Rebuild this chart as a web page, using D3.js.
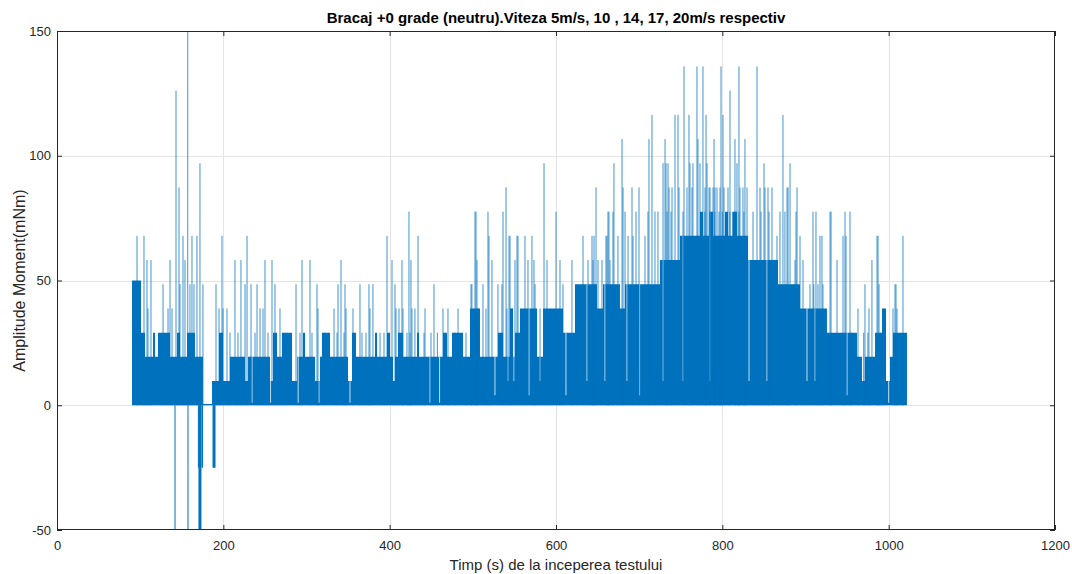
<!DOCTYPE html>
<html><head><meta charset="utf-8">
<script src="https://cdn.jsdelivr.net/npm/d3@7/dist/d3.min.js"></script>
<style>
body{margin:0;background:#fff;}
svg{display:block;font-family:"Liberation Sans",Arial,sans-serif;}
</style></head>
<body><svg id="chart" width="1072" height="574"></svg>
<script>
const titleText = "Bracaj +0 grade (neutru).Viteza 5m/s, 10 , 14, 17, 20m/s respectiv";
const xLabel = "Timp (s) de la inceperea testului";
const yLabel = "Amplitude Moment(mNm)";
const xTicks = [0, 200, 400, 600, 800, 1000, 1200];
const yTicks = [-50, 0, 50, 100, 150];

// dense band: step envelope (time, solid top level)
const envTime = [90.2,101.0,105.8,115.4,117.8,121.4,135.9,144.3,147.9,156.3,165.9,175.5,186.4,194.8,199.6,208.0,226.1,229.7,256.1,259.7,264.5,270.5,282.6,288.6,295.8,298.2,310.2,316.2,318.6,328.3,349.9,354.7,359.5,382.4,384.8,396.8,400.4,404.0,406.4,410.0,416.0,432.9,435.3,464.1,468.9,474.9,488.2,496.6,508.6,530.2,536.3,544.7,548.3,550.7,556.7,577.2,584.4,608.4,622.8,649.3,656.5,676.9,683.0,725.0,749.1,773.1,776.7,784.0,788.8,803.2,806.8,812.0,817.6,830.9,866.9,893.4,925.8,949.9,961.9,967.9,971.5,983.6,992.0,996.8,1001.6,1005.2,1022.0];
const envValue = [50,29.1,19.4,29.1,19.4,29.1,19.4,29.1,19.4,29.1,19.4,0.5,9.7,29.1,9.7,19.4,9.7,19.4,9.7,29.1,19.4,29.1,9.7,19.4,29.1,19.4,9.7,19.4,29.1,19.4,9.7,29.1,19.4,29.1,19.4,29.1,19.4,9.7,19.4,29.1,19.4,29.1,19.4,29.1,19.4,29.1,19.4,38.8,19.4,29.1,19.4,38.8,19.4,29.1,38.8,19.4,38.8,29.1,48.5,38.8,48.5,38.8,48.5,58.2,67.9,77.6,67.9,77.6,67.9,77.6,67.9,77.6,67.9,58.2,48.5,38.8,29.1,29.1,19.4,9.7,19.4,29.1,38.8,9.7,19.4,29.1,0];

// short drops inside the dense band (time, value reached)
const dipTime = [234.5,256.8,290.0,315.0,352.3,448.5,460.0,526.6,542.3,549.5,567.5,580.8,612.0,637.3,658.9,685.4,700.5,728.7,752.7,785.2,832.1,853.7,901.8,911.4,949.9,1000.0];
const dipValue = [1,1,1,1,1,1,1,4,9.7,9.7,4,9.7,4,9.7,9.7,9.7,4,9.7,9.7,9.7,9.7,9.7,9.7,9.7,4,1];

// individual peaks (time, value)
const spikeTime = [
157.2,143.1,809.2,
753.9,769.5,776.7,798.4,820.0,841.7,
715.4,743.1,746.7,759.9,780.4,800.8,872.9,
679.4,711.8,731.1,770.7,790.0,815.2,827.2,
171.9,585.6,669.7,728.7,732.3,734.7,761.1,764.7,773.1,781.6,817.6,850.1,881.4,
146.7,539.9,648.1,680.6,691.4,699.8,735.9,739.5,747.9,757.5,763.5,779.2,784.0,785.2,788.8,791.2,793.6,797.2,802.0,806.8,821.2,824.8,829.7,845.3,851.3,854.9,859.7,877.8,879.0,889.8,
423.2,502.6,503.8,518.2,536.3,600.0,662.5,663.7,668.5,683.0,696.2,710.6,719.0,722.6,733.5,738.3,752.7,826.0,836.9,846.5,856.1,869.3,875.3,888.6,909.0,912.6,929.5,930.7,947.5,953.5,779.0,786.0,791.0,796.0,800.0,809.0,815.0,820.0,
96.2,104.6,151.5,162.3,168.3,198.4,228.5,396.8,434.1,519.4,543.5,544.7,553.1,554.3,562.7,571.1,632.5,643.3,645.7,660.1,661.3,674.5,686.6,692.6,707.0,865.7,893.4,917.4,919.8,945.1,948.7,986.0,987.2,1017.2,
108.2,113.0,135.9,153.9,214.0,221.2,250.1,258.5,294.6,304.2,341.5,402.8,414.8,425.6,505.0,523.0,550.7,566.3,573.5,589.2,604.8,619.2,638.5,644.5,650.5,655.3,664.9,887.4,897.0,937.9,979.9,
127.5,147.9,159.9,164.7,175.5,191.2,226.1,233.3,240.5,262.1,287.4,312.6,337.9,346.3,364.3,375.1,379.9,406.4,453.3,497.8,498.9,512.2,530.2,535.0,574.8,608.4,905.4,910.0,915.0,921.0,971.5,988.4,1007.6,1008.8,
109.4,133.5,138.3,194.8,199.6,204.4,244.1,247.7,268.1,313.8,333.1,347.5,355.9,376.3,407.6,411.2,416.0,426.8,430.4,442.5,464.1,470.1,482.2,506.2,515.8,541.1,547.1,580.8,963.1,976.3,993.2,1005.2,1010.0,
208.0,217.6,238.1,253.7,274.2,292.2,306.6,322.2,336.7,345.1,366.7,371.5,388.4,393.2,420.8,424.4,441.3,449.7,457.4,478.5,491.8,955.0,970.0,975.0,990.0
];
const spikeValue = [
155,126.1,126.1,
135.8,135.8,135.8,135.8,135.8,135.8,
116.4,116.4,116.4,116.4,116.4,116.4,116.4,
106.7,106.7,106.7,106.7,106.7,106.7,106.7,
97,97,97,97,97,97,97,97,97,97,97,97,97,
87.3,87.3,87.3,87.3,87.3,87.3,87.3,87.3,87.3,87.3,87.3,87.3,87.3,87.3,87.3,87.3,87.3,87.3,87.3,87.3,87.3,87.3,87.3,87.3,87.3,87.3,87.3,87.3,87.3,87.3,
77.6,77.6,77.6,77.6,77.6,77.6,77.6,77.6,77.6,77.6,77.6,77.6,77.6,77.6,77.6,77.6,77.6,77.6,77.6,77.6,77.6,77.6,77.6,77.6,77.6,77.6,77.6,77.6,77.6,77.6,77.6,77.6,77.6,77.6,77.6,77.6,77.6,77.6,
67.9,67.9,67.9,67.9,67.9,67.9,67.9,67.9,67.9,67.9,67.9,67.9,67.9,67.9,67.9,67.9,67.9,67.9,67.9,67.9,67.9,67.9,67.9,67.9,67.9,67.9,67.9,67.9,67.9,67.9,67.9,67.9,67.9,67.9,
58.2,58.2,58.2,58.2,58.2,58.2,58.2,58.2,58.2,58.2,58.2,58.2,58.2,58.2,58.2,58.2,58.2,58.2,58.2,58.2,58.2,58.2,58.2,58.2,58.2,58.2,58.2,58.2,58.2,58.2,58.2,
48.5,48.5,48.5,48.5,48.5,48.5,48.5,48.5,48.5,48.5,48.5,48.5,48.5,48.5,48.5,48.5,48.5,48.5,48.5,48.5,48.5,48.5,48.5,48.5,48.5,48.5,48.5,48.5,48.5,48.5,48.5,48.5,48.5,48.5,
38.8,38.8,38.8,38.8,38.8,38.8,38.8,38.8,38.8,38.8,38.8,38.8,38.8,38.8,38.8,38.8,38.8,38.8,38.8,38.8,38.8,38.8,38.8,38.8,38.8,38.8,38.8,38.8,38.8,38.8,38.8,38.8,38.8,
29.1,29.1,29.1,29.1,29.1,29.1,29.1,29.1,29.1,29.1,29.1,29.1,29.1,29.1,29.1,29.1,29.1,29.1,29.1,29.1,29.1,29.1,29.1,29.1,29.1
];
// negative excursions
const negTime = [141.9,157.5,170.7,171.3,171.9,172.5,173.1,170.0,174.3,175.0,187.6,188.2,188.8,189.4,190.0];
const negValue = [-50,-50,-50,-50,-50,-50,-50,-25,-25,-25,-25,-25,-25,-25,-25];

const W = 1072, H = 574;
const m = {l:57, r:1055, t:31, b:530};
const svg = d3.select("#chart");
const x = d3.scaleLinear().domain([0,1200]).range([m.l, m.r]);
const y = d3.scaleLinear().domain([-50,150]).range([m.b, m.t]);
const ink = "#262626";
const blue = "#0072BD";
const fontFam = "'Liberation Sans',Arial,sans-serif";

svg.append("rect").attr("x",0).attr("y",0).attr("width",W).attr("height",H).attr("fill","#fff");

// grid
const grid = svg.append("g");
grid.selectAll(".gx").data(xTicks.slice(1,-1)).join("line")
  .attr("x1",d=>Math.round(x(d))+0.5).attr("x2",d=>Math.round(x(d))+0.5).attr("y1",m.t).attr("y2",m.b)
  .attr("stroke","#e3e3e3").attr("stroke-width",1);
grid.selectAll(".gy").data(yTicks.slice(1,-1)).join("line")
  .attr("y1",d=>Math.round(y(d))+0.5).attr("y2",d=>Math.round(y(d))+0.5).attr("x1",m.l).attr("x2",m.r)
  .attr("stroke","#e3e3e3").attr("stroke-width",1);

svg.append("clipPath").attr("id","clip").append("rect")
  .attr("x",m.l).attr("y",m.t).attr("width",m.r-m.l).attr("height",m.b-m.t);
const plot = svg.append("g").attr("clip-path","url(#clip)");

const envData = envTime.map((t,i)=>({t, v:envValue[i]}));
const area = d3.area().x(d=>x(d.t)).y0(y(0)).y1(d=>y(d.v)).curve(d3.curveStepAfter);
plot.append("path").datum(envData).attr("d",area).attr("fill",blue);

// envelope lookup for drops
const bis = d3.bisector(d=>d.t).right;
function envAt(t){ const i = bis(envData, t) - 1; return i >= 0 ? envData[i].v : 0; }
const dips = dipTime.map((t,i)=>({t, v:dipValue[i], top:envAt(t)}));
plot.selectAll(".dp").data(dips).join("line")
  .attr("x1",d=>x(d.t)).attr("x2",d=>x(d.t))
  .attr("y1",d=>y(d.v)).attr("y2",d=>y(d.top))
  .attr("stroke","#fff").attr("stroke-width",0.9).attr("stroke-opacity",0.85);

const spikes = spikeTime.map((t,i)=>({t, v:spikeValue[i]}));
plot.selectAll(".sp").data(spikes).join("line")
  .attr("x1",d=>x(d.t)).attr("x2",d=>x(d.t))
  .attr("y1",y(0)).attr("y2",d=>y(d.v))
  .attr("stroke",blue).attr("stroke-width",1).attr("stroke-opacity",0.75);

const negs = negTime.map((t,i)=>({t, v:negValue[i]}));
plot.selectAll(".ng").data(negs).join("line")
  .attr("x1",d=>x(d.t)).attr("x2",d=>x(d.t))
  .attr("y1",y(0)).attr("y2",d=>y(d.v))
  .attr("stroke",blue).attr("stroke-width",1);

// box
svg.append("rect").attr("x",m.l+0.5).attr("y",m.t+0.5).attr("width",m.r-m.l-1).attr("height",m.b-m.t-1)
  .attr("fill","none").attr("stroke",ink).attr("stroke-width",1);

// axes with inward ticks
const fmt = d => String(d);
const axB = d3.axisBottom(x).tickValues(xTicks).tickSize(-5).tickPadding(11).tickFormat(fmt);
const axT = d3.axisTop(x).tickValues(xTicks).tickSize(-5).tickFormat("");
const axL = d3.axisLeft(y).tickValues(yTicks).tickSize(-5).tickPadding(6).tickFormat(fmt);
const axR = d3.axisRight(y).tickValues(yTicks).tickSize(-5).tickFormat("");
function style(g){
  g.select(".domain").remove();
  g.selectAll("line").attr("stroke",ink);
  g.selectAll("text").attr("fill",ink).style("font-size","13px").style("font-family",fontFam);
}
svg.append("g").attr("transform",`translate(0,${m.b})`).call(axB).call(style);
svg.append("g").attr("transform",`translate(0,${m.t})`).call(axT).call(style);
svg.append("g").attr("transform",`translate(${m.l},0)`).call(axL).call(style);
svg.append("g").attr("transform",`translate(${m.r},0)`).call(axR).call(style);

svg.append("text").attr("x",(m.l+m.r)/2).attr("y",23).attr("text-anchor","middle")
  .style("font-size","15px").style("font-weight","bold").attr("fill","#000").text(titleText);
svg.append("text").attr("x",(m.l+m.r)/2).attr("y",570).attr("text-anchor","middle")
  .style("font-size","15px").attr("fill",ink).text(xLabel);
svg.append("text").attr("transform",`translate(25,${(m.t+m.b)/2}) rotate(-90)`).attr("text-anchor","middle")
  .style("font-size","16px").attr("fill",ink).text(yLabel);
</script></body></html>
